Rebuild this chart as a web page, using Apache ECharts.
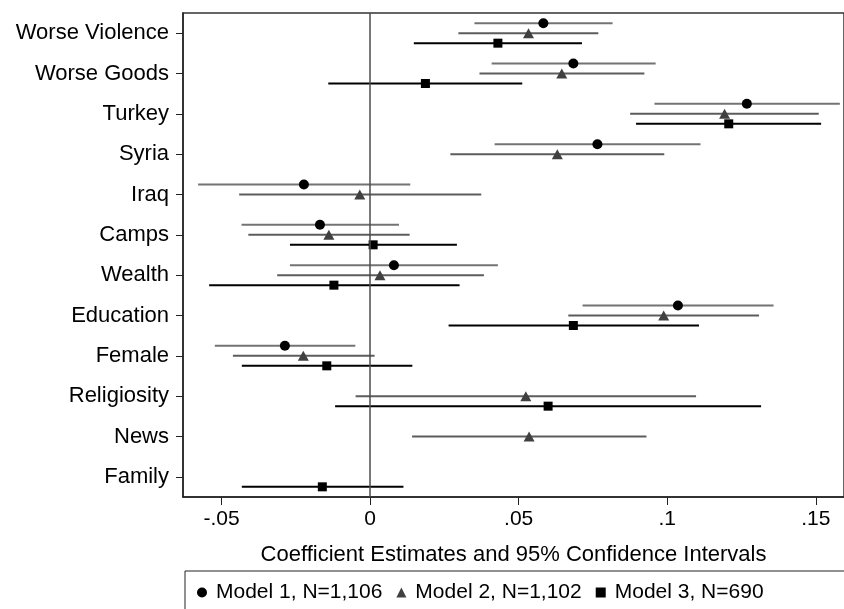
<!DOCTYPE html>
<html>
<head>
<meta charset="utf-8">
<title>Coefficient plot</title>
<script src="https://cdn.jsdelivr.net/npm/echarts@6/dist/echarts.min.js"></script>
<style>
  html, body { margin: 0; padding: 0; background: #fff; }
  #chart { width: 844px; height: 609px; }
</style>
</head>
<body>
<div id="chart"></div>
<script>
// Predictors, listed top to bottom
const categories = ['Worse Violence', 'Worse Goods', 'Turkey', 'Syria', 'Iraq', 'Camps',
  'Wealth', 'Education', 'Female', 'Religiosity', 'News', 'Family'];

// Model 1 (N=1,106): point estimates and 95% interval bounds
const m1Est = [0.0583, 0.0684, 0.1268, 0.0765, -0.0223, -0.0169, 0.0080, 0.1036, -0.0287, null, null, null];
const m1Lo  = [0.0351, 0.0409, 0.0957, 0.0419, -0.0579, -0.0433, -0.0270, 0.0715, -0.0523, null, null, null];
const m1Hi  = [0.0816, 0.0961, 0.1581, 0.1112, 0.0135, 0.0097, 0.0430, 0.1358, -0.0050, null, null, null];

// Model 2 (N=1,102)
const m2Est = [0.0533, 0.0645, 0.1193, 0.0630, -0.0035, -0.0139, 0.0033, 0.0988, -0.0225, 0.0524, 0.0535, null];
const m2Lo  = [0.0297, 0.0368, 0.0875, 0.0270, -0.0441, -0.0410, -0.0313, 0.0667, -0.0462, -0.0049, 0.0141, null];
const m2Hi  = [0.0768, 0.0923, 0.1510, 0.0990, 0.0374, 0.0133, 0.0383, 0.1309, 0.0015, 0.1097, 0.0930, null];

// Model 3 (N=690)
const m3Est = [0.0430, 0.0186, 0.1207, null, null, 0.0010, -0.0122, 0.0684, -0.0146, 0.0599, null, -0.0161];
const m3Lo  = [0.0147, -0.0141, 0.0895, null, null, -0.0270, -0.0542, 0.0264, -0.0432, -0.0118, null, -0.0432];
const m3Hi  = [0.0713, 0.0512, 0.1518, null, null, 0.0292, 0.0301, 0.1107, 0.0142, 0.1316, null, 0.0112];

// X-axis tick values
const xTicks = [-0.05, 0, 0.05, 0.1, 0.15];

const modelNames = ['Model 1, N=1,106', 'Model 2, N=1,102', 'Model 3, N=690'];

const FONT = "'Liberation Sans', Arial, Helvetica, sans-serif";
const FS = 21;
const FS_AXIS = 22;

const models = [
  { name: modelNames[0], est: m1Est, lo: m1Lo, hi: m1Hi, offset: -10,
    lineColor: '#737373', markColor: '#000000', symbol: 'circle', size: 10 },
  { name: modelNames[1], est: m2Est, lo: m2Lo, hi: m2Hi, offset: 0,
    lineColor: '#5c5c5c', markColor: '#404040', symbol: 'triangle', size: [11, 10] },
  { name: modelNames[2], est: m3Est, lo: m3Lo, hi: m3Hi, offset: 10,
    lineColor: '#000000', markColor: '#000000', symbol: 'rect', size: 9 }
];

function fmtTick(v) {
  if (v === 0) return '0';
  const s = String(Math.round(v * 1000) / 1000);
  return s.replace(/^(-?)0\./, '$1.');
}

const series = [];

// vertical reference line at zero
series.push({
  type: 'scatter',
  name: 'zero',
  data: [],
  z: 1,
  silent: true,
  markLine: {
    silent: true,
    symbol: 'none',
    label: { show: false },
    lineStyle: { color: '#4d4d4d', width: 1.5, type: 'solid' },
    data: [{ xAxis: 0 }]
  }
});

models.forEach(function (m, k) {
  const ciData = [];
  const ptData = [];
  categories.forEach(function (c, i) {
    if (m.est[i] === null) return;
    ciData.push([m.lo[i], m.hi[i], i]);
    ptData.push([m.est[i], i]);
  });

  // confidence interval segments
  series.push({
    type: 'custom',
    name: 'ci' + k,
    z: 2,
    silent: true,
    encode: { x: [0, 1], y: 2 },
    data: ciData,
    renderItem: function (params, api) {
      const row = api.value(2);
      const a = api.coord([api.value(0), row]);
      const b = api.coord([api.value(1), row]);
      return {
        type: 'line',
        shape: { x1: a[0], y1: a[1] + m.offset, x2: b[0], y2: b[1] + m.offset },
        style: { stroke: m.lineColor, lineWidth: 2 }
      };
    }
  });

  // point estimates
  series.push({
    type: 'scatter',
    name: m.name,
    z: 3,
    symbol: m.symbol,
    symbolSize: m.size,
    symbolOffset: [0, m.offset],
    itemStyle: { color: m.markColor, opacity: 1 },
    data: ptData
  });
});

const chart = echarts.init(document.getElementById('chart'), null, { renderer: 'canvas' });

chart.setOption({
  animation: false,
  backgroundColor: '#ffffff',
  textStyle: { fontFamily: FONT },
  grid: {
    left: 183, top: 13, right: -1, bottom: 112,
    show: true, borderColor: '#333333', borderWidth: 1.5, backgroundColor: 'transparent'
  },
  xAxis: {
    type: 'value',
    min: -0.063,
    max: 0.1595,
    name: 'Coefficient Estimates and 95% Confidence Intervals',
    nameLocation: 'middle',
    nameGap: 47,
    nameTextStyle: { color: '#000', fontSize: FS_AXIS, fontFamily: FONT },
    axisLine: { show: true, onZero: false, lineStyle: { color: '#222', width: 1.5 } },
    axisTick: { show: true, length: 8, customValues: xTicks, lineStyle: { color: '#222', width: 1 } },
    axisLabel: {
      customValues: xTicks, margin: 12, color: '#000', fontSize: FS, fontFamily: FONT,
      formatter: fmtTick
    },
    splitLine: { show: false }
  },
  yAxis: {
    type: 'category',
    data: categories,
    inverse: true,
    boundaryGap: true,
    axisLine: { show: true, onZero: false, lineStyle: { color: '#222', width: 1.5 } },
    axisTick: { show: true, inside: false, length: 7, alignWithLabel: true, lineStyle: { color: '#222', width: 1 } },
    axisLabel: { margin: 14, color: '#000', fontSize: FS_AXIS, fontFamily: FONT },
    splitLine: { show: false }
  },
  legend: {
    left: 192,
    top: 577,
    itemWidth: 10,
    itemHeight: 10,
    itemGap: 14,
    selectedMode: false,
    textStyle: { color: '#000', fontSize: FS, fontFamily: FONT, padding: [0, 0, 0, 4] },
    data: [
      { name: modelNames[0], icon: 'circle', itemStyle: { color: '#000' } },
      { name: modelNames[1], icon: 'triangle', itemStyle: { color: '#404040' } },
      { name: modelNames[2], icon: 'rect', itemStyle: { color: '#000' } }
    ]
  },
  graphic: [{
    type: 'rect',
    silent: true,
    shape: { x: 185, y: 571, width: 700, height: 60 },
    style: { fill: 'none', stroke: '#222', lineWidth: 1 }
  }],
  series: series
});
</script>
</body>
</html>
